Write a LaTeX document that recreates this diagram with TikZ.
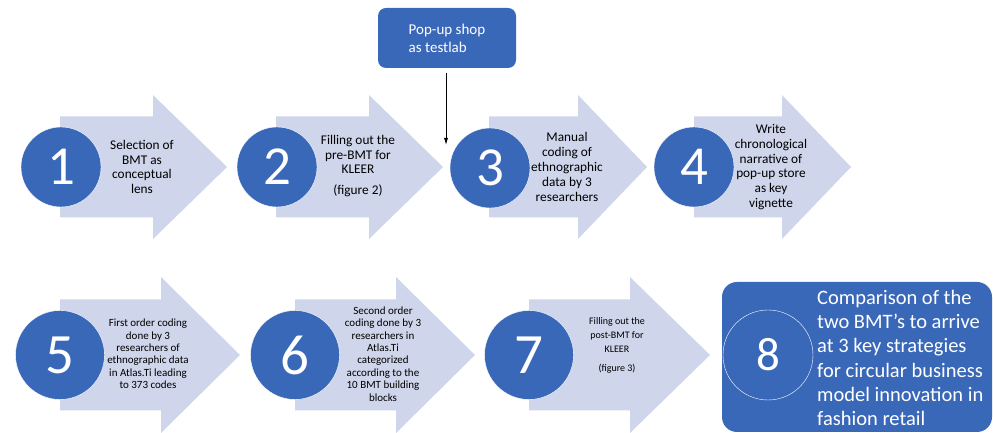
\documentclass[tikz,border=0pt]{standalone}
\usepackage{fontspec}
\setmainfont{Carlito}
\usetikzlibrary{arrows.meta}
\definecolor{stepblue}{HTML}{3A68B8}
\definecolor{arrowfill}{HTML}{CFD5EA}
\begin{document}
\begin{tikzpicture}[
        x=1pt, y=1pt,
        stepfill/.style={fill=arrowfill},
        stepnum/.style={circle, fill=stepblue, draw=white, thin, text=white, inner sep=0pt, minimum size=80pt, font=\fontsize{55}{55}\selectfont},
        bignum/.style={stepnum, minimum size=89pt, font=\fontsize{57}{57}\selectfont},
        steptext/.style={align=center, font=\fontsize{13.3}{14.8}\selectfont},
        smalltext/.style={align=center, font=\fontsize{11}{12.4}\selectfont},
        tinytext/.style={align=center, font=\fontsize{10}{14}\selectfont},
        bluebox/.style={rectangle, fill=stepblue, text=white, inner sep=0pt},
        flowarrow/.style={draw, thick, -{Latex[length=7pt,width=4pt]}, shorten <=5pt},
    ]
    \useasboundingbox (0,0) rectangle (993,433);
    % big arrows, upper row
    \foreach \l/\b/\t in {60/153/227, 276/369/443, 489/578/647, 694/782/851}
        \fill[stepfill] (\l,316.5) -- (\b,316.5) -- (\b,338) -- (\t,266) -- (\b,194) -- (\b,215.5) -- (\l,215.5) -- cycle;
    % big arrows, lower row
    \foreach \l/\b/\t in {60/161/240, 295/396/475, 529/630/710}
        \fill[stepfill] (\l,133.5) -- (\b,133.5) -- (\b,156) -- (\t,78) -- (\b,0) -- (\b,22.5) -- (\l,22.5) -- cycle;
    % numbers
    \node[stepnum](n1) at (61,266){1};
    \node[stepnum](n2) at (277,266){2};
    \node[stepnum](n3) at (490,265){3};
    \node[stepnum](n4) at (694,266){4};
    \node[bignum](n5) at (60,78){5};
    \node[bignum](n6) at (295,78){6};
    \node[bignum](n7) at (529,78){7};
    % texts
    \node[steptext](t1) at (142,266){Selection of\\BMT as\\conceptual\\lens};
    \node[steptext](t2) at (358,267){Filling out the\\pre-BMT for\\KLEER\\[6pt](figure 2)};
    \node[steptext](t3) at (567,266){Manual\\coding of\\ethnographic\\data by 3\\researchers};
    \node[steptext](t4) at (771,266){Write\\chronological\\narrative of\\pop-up store\\as key\\vignette};
    \node[smalltext](t5) at (148,79){First order coding\\done by 3\\researchers of\\ethnographic data\\in Atlas.Ti leading\\to 373 codes};
    \node[smalltext](t6) at (383,79){Second order\\coding done by 3\\researchers in\\Atlas.Ti\\categorized\\according to the\\10 BMT building\\blocks};
    \node[tinytext](t7) at (617,88){Filling out the\\post-BMT for\\KLEER\\[5pt](figure 3)};
    % pop-up shop
    \node[bluebox, rounded corners=8pt, minimum width=138pt, minimum height=60pt, align=left,
          font=\fontsize{15}{18}\selectfont](popup) at (447,395){Pop-up shop\\as testlab};
    \coordinate (popend) at (446,288);
    \draw[flowarrow] (popup.south -| popend) -- (popend);
    % final step
    \node[bluebox, rounded corners=15pt, minimum width=270pt, minimum height=150pt](final) at (857,76){};
    \node[circle, draw=white, thin, text=white, inner sep=0pt, minimum size=90pt,
          font=\fontsize{47}{47}\selectfont](n8) at (768,78){8};
    \node[anchor=west, align=left, text=white, inner sep=0pt,
          font=\fontsize{20.5}{24.2}\selectfont](t8) at (817,75){Comparison of the\\two BMT’s to arrive\\at 3 key strategies\\for circular business\\model innovation in\\fashion retail};
\end{tikzpicture}
\end{document}
